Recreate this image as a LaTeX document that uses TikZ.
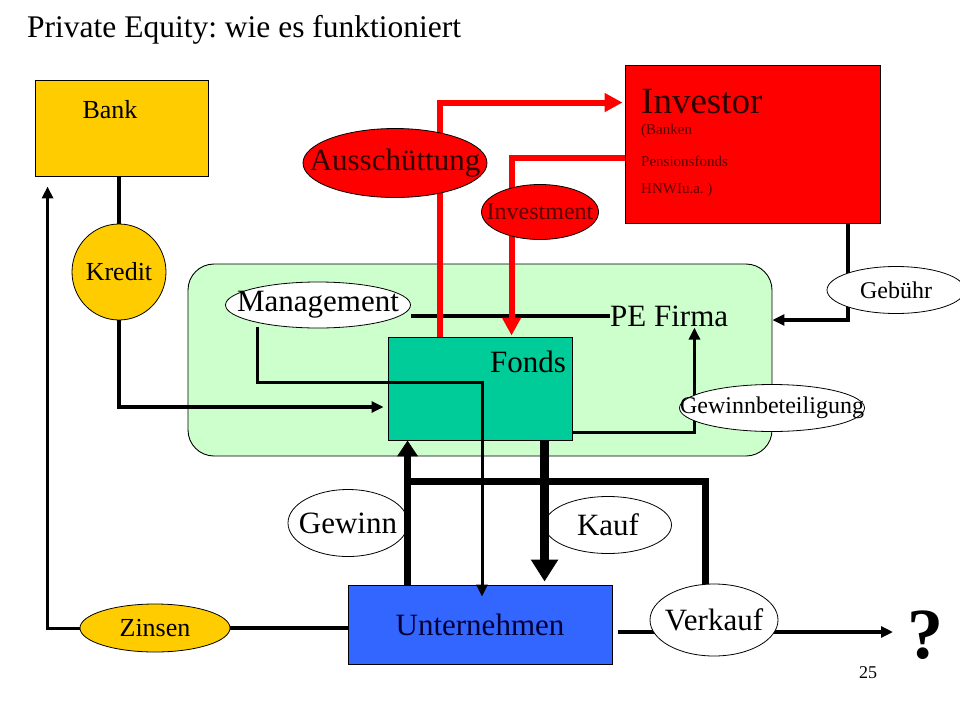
\documentclass[tikz,border=0pt]{standalone}
\usepackage{fontspec}
\setmainfont{Liberation Serif}
\usetikzlibrary{shapes.geometric,arrows.meta,calc}
\pgfdeclarelayer{back}
\pgfdeclarelayer{lines}
\pgfsetlayers{back,lines,main}
\definecolor{bankyellow}{HTML}{FFCC00}
\definecolor{pegreen}{HTML}{CCFFCC}
\definecolor{fondsgreen}{HTML}{00CC99}
\definecolor{unblue}{HTML}{3366FF}
\definecolor{invred}{HTML}{FF0000}
\definecolor{darkred}{HTML}{5A0000}
\definecolor{deepred}{HTML}{300000}
\definecolor{navytext}{HTML}{000033}
\frenchspacing
\tikzset{
  box/.style={draw=black, line width=0.9pt, inner sep=0pt},
  oval/.style={ellipse, draw=black, line width=0.8pt, inner sep=0pt, fill=white},
  big/.style={font=\fontsize{31}{36}\selectfont},
  mid/.style={font=\fontsize{26}{30}\selectfont},
  small/.style={font=\fontsize{24}{28}\selectfont},
  tiny/.style={font=\fontsize{15}{18}\selectfont, text=darkred, inner sep=0pt, anchor=west},
  conn/.style={line width=3.5pt, draw=black},
  tip/.style={-{Triangle[length=12pt,width=11pt]}},
  redconn/.style={line width=6pt, draw=invred, -{Triangle[length=18pt,width=18pt]}},
}
\begin{document}
\begin{tikzpicture}[x=1pt,y=-1pt]
\useasboundingbox (0,0) rectangle (960,720);
\begin{pgfonlayer}{back}
\fill[white] (0,0) rectangle (960,720);
\node[box, rounded corners=26pt, fill=pegreen, minimum width=584pt, minimum height=192pt] (pe) at (480,360) {};
\end{pgfonlayer}

% title and page number
\node[anchor=base west, inner sep=0pt, font=\fontsize{31.5}{38}\selectfont] (title) at (27,37) {Private Equity: wie es funktioniert};
\node[inner sep=0pt, font=\fontsize{18}{22}\selectfont] (pagenum) at (868,673) {25};

% boxes
\node[box, fill=bankyellow, minimum width=173pt, minimum height=96pt] (bank) at (121.5,128) {};
\node[inner sep=0pt, mid] (banklbl) at (110,110) {Bank};
\node[box, fill=fondsgreen, minimum width=184pt, minimum height=103pt] (fonds) at (480,388.5) {};
\node[inner sep=0pt, big] (fondslbl) at (528,362) {Fonds};
\node[box, fill=invred, minimum width=255pt, minimum height=158pt] (investor) at (752.5,144) {};
\node[inner sep=0pt, anchor=west, font=\fontsize{37}{42}\selectfont, text=deepred] (invlbl) at (641,102) {Investor};
\node[tiny] (inv1) at (641,131) {(Banken};
\node[tiny] (inv2) at (641,161) {Pensionsfonds};
\node[tiny] (inv3) at (641,190) {HNWIu.a. )};
\node[box, fill=unblue, minimum width=264pt, minimum height=79pt, big, text=navytext] (untern) at (480,624.5) {Unternehmen};
\node[inner sep=0pt, big, anchor=west] (pelbl) at (610,316) {PE Firma};

% ovals (text as centred labels so the ellipse keeps its own size)
\node[oval, fill=bankyellow, minimum width=94pt, minimum height=96pt,
      label={[name=kreditlbl, mid]center:Kredit}] (kredit) at (119,272) {};
\node[oval, fill=bankyellow, minimum width=150pt, minimum height=48pt,
      label={[name=zinsenlbl, mid]center:Zinsen}] (zinsen) at (155,628) {};
\node[oval, minimum width=185pt, minimum height=46pt,
      label={[name=mgmtlbl, big]center:Management}] (mgmt) at (318,305) {};
\node[oval, minimum width=185pt, minimum height=47pt,
      label={[name=gewblbl, small]center:Gewinnbeteiligung}] (gewb) at (772,408) {};
\node[oval, minimum width=138pt, minimum height=47pt,
      label={[name=gebuehrlbl, small]center:Gebühr}] (gebuehr) at (896,290) {};
\node[oval, fill=invred, minimum width=184pt, minimum height=69pt,
      label={[name=ausschlbl, big, text=deepred]center:Ausschüttung}] (aussch) at (395,163) {};
\node[oval, fill=invred, minimum width=117pt, minimum height=55pt,
      label={[name=investmentlbl, small, text=darkred]center:Investment}] (investment) at (540,212) {};
\node[oval, minimum width=120pt, minimum height=67pt,
      label={[name=gewinnlbl, big]center:Gewinn}] (gewinn) at (348,523) {};
\node[oval, minimum width=127pt, minimum height=57pt,
      label={[name=kauflbl, big]center:Kauf}] (kauf) at (608,525) {};
\node[oval, minimum width=128pt, minimum height=72pt,
      label={[name=verkauflbl, big]center:Verkauf}] (verkauf) at (714,620) {};
\node[inner sep=0pt, font=\bfseries\fontsize{72}{80}\selectfont] (qmark) at (925,635) {?};

\begin{pgfonlayer}{lines}
% bank - kredit - fonds
\draw[line width=4.5pt] (kredit.north) -- (kredit.north |- bank.south);
\draw[conn, tip] (kredit.south) |- ($(fonds.west)+(-4,18.5)$);
% zinsen
\draw[conn] (untern.west |- zinsen.east) -- (zinsen.east);
\draw[conn, line width=3pt, tip] (zinsen.west) -| ($(bank.south west)+(13,10)$);
% management - PE Firma
\draw[line width=4pt] (mgmt.east |- pelbl.west) -- (pelbl.west);
% fonds - gewinnbeteiligung - PE Firma
\draw[conn, line width=3pt, tip] ($(fonds.south east)+(0,-8)$) -| ($(pe.north east)+(-78,64)$);
% investor - gebuehr - PE Firma
\draw[line width=4pt, tip] ($(investor.south east)+(-32,0)$) |- ($(pe.east)+(0,-40)$);
% red flows
\draw[redconn] ($(fonds.north west)+(52,0)$) |- ($(investor.north west)+(-2,38)$);
\draw[redconn] ($(investor.west)+(0,14)$) -| ($(fonds.north west)+(124,-1)$);
% verkauf
\draw[line width=7pt] ($(verkauf.north)+(-9,2)$) |- ($(fonds.south west)+(16.5,41)$);
\draw[line width=4pt, tip] ($(untern.east)+(6,7.5)$) -- ($(qmark.center)+(-32,-3)$);
\end{pgfonlayer}

% lines over nodes
\draw[conn, line width=3pt, tip] ($(mgmt.center)+(-61,22)$) |- ($(untern.north)+(2,-202)$) -- ($(untern.north)+(2,12)$);
\draw[line width=7pt, -{Triangle[length=16pt,width=20pt]}] ($(untern.north west)+(60,0)$) -- ($(fonds.south west)+(20,0)$);
\draw[line width=9pt, -{Triangle[length=22pt,width=26pt]}] ($(fonds.south west)+(157,0)$) -- ($(untern.north west)+(197,-3)$);
\end{tikzpicture}
\end{document}
